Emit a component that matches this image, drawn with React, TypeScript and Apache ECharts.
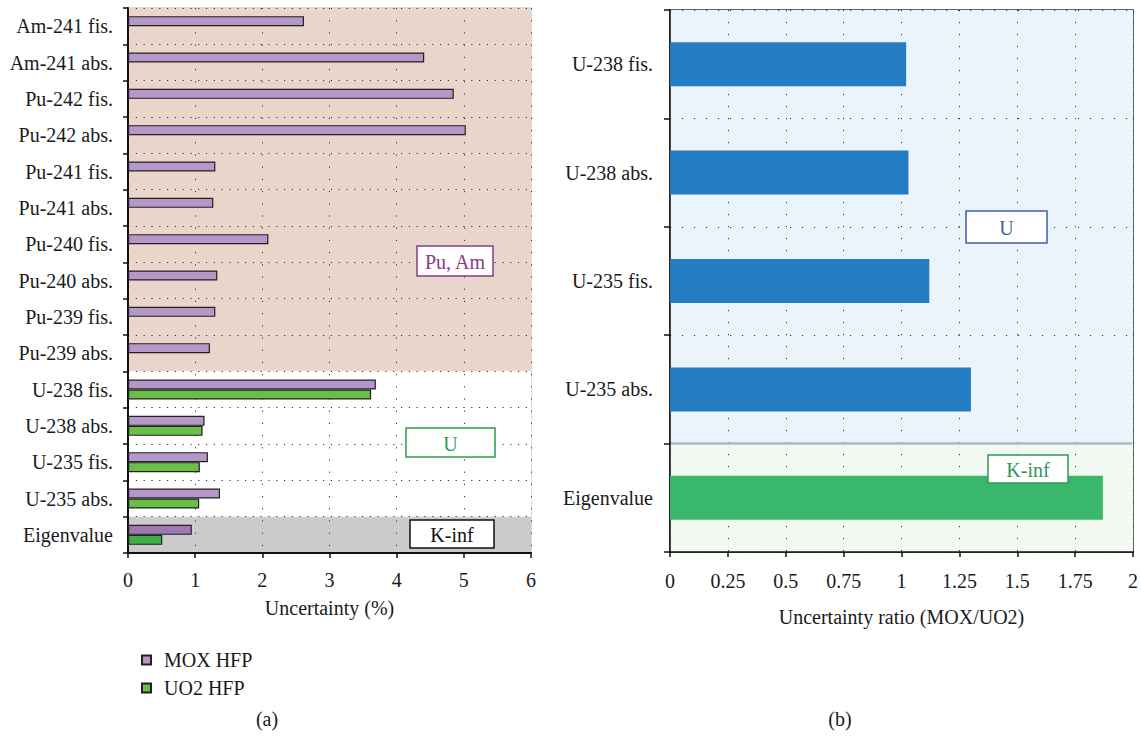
import React, { useEffect, useRef } from 'react';
import * as echarts from 'echarts';

// ---- Panel (a): uncertainty (%) ----
const leftCategories = [
  'Am-241 fis.', 'Am-241 abs.', 'Pu-242 fis.', 'Pu-242 abs.', 'Pu-241 fis.',
  'Pu-241 abs.', 'Pu-240 fis.', 'Pu-240 abs.', 'Pu-239 fis.', 'Pu-239 abs.',
  'U-238 fis.', 'U-238 abs.', 'U-235 fis.', 'U-235 abs.', 'Eigenvalue',
];
const leftRegions = [
  'PuAm', 'PuAm', 'PuAm', 'PuAm', 'PuAm', 'PuAm', 'PuAm', 'PuAm', 'PuAm', 'PuAm',
  'U', 'U', 'U', 'U', 'K',
];
const moxHfp = [2.62, 4.41, 4.85, 5.03, 1.30, 1.27, 2.09, 1.33, 1.30, 1.22, 3.69, 1.14, 1.19, 1.37, 0.95];
const uo2Hfp = [null, null, null, null, null, null, null, null, null, null, 3.62, 1.11, 1.07, 1.06, 0.51];
const leftTicks = [0, 1, 2, 3, 4, 5, 6];

// ---- Panel (b): uncertainty ratio ----
const ratioCategories = ['U-238 fis.', 'U-238 abs.', 'U-235 fis.', 'U-235 abs.', 'Eigenvalue'];
const ratioRegions = ['U', 'U', 'U', 'U', 'K'];
const ratioValues = [1.02, 1.03, 1.12, 1.30, 1.87];
const ratioTicks = [0, 0.25, 0.5, 0.75, 1, 1.25, 1.5, 1.75, 2];

const FONT = '"Liberation Serif", "Times New Roman", serif';
const TXT = '#1a1a1a';

const leftBg: Record<string, string> = { PuAm: '#EAD5CA', U: '#FFFFFF', K: '#CBCBCB' };
const rightBg: Record<string, string> = { U: '#EBF3FB', K: '#F2F9F1' };

function box(x: number, y: number, w: number, h: number, text: string, color: string, border: string) {
  return {
    type: 'group',
    x,
    y,
    children: [
      { type: 'rect', shape: { x: 0, y: 0, width: w, height: h }, style: { fill: '#fff', stroke: border, lineWidth: 1.5 }, z: 20 },
      {
        type: 'text',
        x: w / 2,
        y: h / 2 + 1,
        style: { text, fill: color, font: `20px ${FONT}`, textAlign: 'center', textVerticalAlign: 'middle' },
        z: 21,
      },
    ],
  };
}

export default function App() {
  const ref = useRef<HTMLDivElement>(null);
  useEffect(() => {
    document.body.style.margin = '0';
    const chart = echarts.init(ref.current!, null, { renderer: 'svg' });

    const dotted = (gap: number) => ({ type: [1.2, gap], color: '#333', width: 1 });

    const option: any = {
      animation: false,
      textStyle: { fontFamily: FONT },
      grid: [
        { left: 128, top: 8, width: 403, height: 545, show: true, borderColor: '#b5b5b5', borderWidth: 1, containLabel: false },
        { left: 670, top: 10, width: 465, height: 542, show: true, borderColor: '#333', borderWidth: 1.5, containLabel: false },
      ],
      xAxis: [
        {
          type: 'value', gridIndex: 0, min: leftTicks[0], max: leftTicks[leftTicks.length - 1], interval: 1,
          name: 'Uncertainty (%)', nameLocation: 'middle', nameGap: 45,
          nameTextStyle: { fontSize: 20, color: TXT, fontFamily: FONT },
          axisLine: { show: true, lineStyle: { color: '#111', width: 2 } },
          axisTick: { show: true, length: 5, inside: false, lineStyle: { color: '#111', width: 1.5 } },
          axisLabel: { fontSize: 20, color: TXT, margin: 17, fontFamily: FONT },
          splitLine: { show: true, lineStyle: dotted(11) },
          z: 1,
        },
        {
          type: 'value', gridIndex: 1, min: ratioTicks[0], max: ratioTicks[ratioTicks.length - 1], interval: 0.25,
          name: 'Uncertainty ratio (MOX/UO2)', nameLocation: 'middle', nameGap: 55,
          nameTextStyle: { fontSize: 20, color: TXT, fontFamily: FONT },
          axisLine: { show: true, lineStyle: { color: '#111', width: 1.5 } },
          axisTick: { show: true, length: 5, inside: false, lineStyle: { color: '#111', width: 1.5 } },
          axisLabel: { fontSize: 20, color: TXT, margin: 19, fontFamily: FONT },
          splitLine: { show: true, lineStyle: dotted(10.8) },
          z: 1,
        },
      ],
      yAxis: [
        {
          type: 'category', gridIndex: 0, data: leftCategories, inverse: true,
          axisLine: { show: true, lineStyle: { color: '#111', width: 2 } },
          axisTick: { show: true, length: 5, inside: false, lineStyle: { color: '#111', width: 1.5 } },
          axisLabel: { fontSize: 20, color: TXT, margin: 15, fontFamily: FONT },
          splitLine: { show: true, lineStyle: dotted(6.6) },
          splitArea: { show: true, areaStyle: { color: leftRegions.map((r) => leftBg[r]) } },
          z: 0,
        },
        {
          type: 'category', gridIndex: 1, data: ratioCategories, inverse: true,
          axisLine: { show: true, lineStyle: { color: '#111', width: 1.5 } },
          axisTick: { show: true, length: 6, inside: false, lineStyle: { color: '#111', width: 1.5 } },
          axisLabel: { fontSize: 20, color: TXT, margin: 17, fontFamily: FONT },
          splitLine: { show: true, lineStyle: dotted(10.8) },
          splitArea: { show: true, areaStyle: { color: ratioRegions.map((r) => rightBg[r]) } },
          z: 0,
        },
      ],
      legend: {
        orient: 'vertical', left: 136, top: 645, itemWidth: 9, itemHeight: 9, itemGap: 8,
        icon: 'rect',
        data: ['MOX HFP', 'UO2 HFP'],
        textStyle: { fontSize: 20, color: TXT, fontFamily: FONT, padding: [0, 0, 0, 8] },
      },
      series: [
        {
          name: 'MOX HFP', type: 'bar', xAxisIndex: 0, yAxisIndex: 0, barWidth: 10, barGap: '0%',
          itemStyle: { color: '#B697C9', borderColor: '#222', borderWidth: 1.2 },
          data: moxHfp.map((v, i) =>
            leftRegions[i] === 'K' ? { value: v, itemStyle: { color: '#9D79B4' } } : v),
          z: 3,
        },
        {
          name: 'UO2 HFP', type: 'bar', xAxisIndex: 0, yAxisIndex: 0, barWidth: 10, barGap: '0%',
          itemStyle: { color: '#6ABF47', borderColor: '#222', borderWidth: 1.2 },
          data: uo2Hfp.map((v, i) =>
            leftRegions[i] === 'K' ? { value: v, itemStyle: { color: '#3FAE48' } } : v),
          z: 3,
        },
        {
          name: 'Ratio', type: 'bar', xAxisIndex: 1, yAxisIndex: 1, barWidth: 44,
          itemStyle: { color: '#247DC2' },
          data: ratioValues.map((v, i) =>
            ratioRegions[i] === 'K' ? { value: v, itemStyle: { color: '#39B76A' } } : v),
          z: 3,
        },
      ],
    };
    chart.setOption(option);

    // separator between U and K-inf regions in panel (b), from the axis scale
    const pA = chart.convertToPixel({ seriesIndex: 2 }, [0, 3]) as number[];
    const pB = chart.convertToPixel({ seriesIndex: 2 }, [0, 4]) as number[];
    const sepY = (pA[1] + pB[1]) / 2;
    const x0 = chart.convertToPixel({ seriesIndex: 2 }, [ratioTicks[0], 0]) as number[];
    const x1 = chart.convertToPixel({ seriesIndex: 2 }, [ratioTicks[ratioTicks.length - 1], 0]) as number[];

    chart.setOption({
      graphic: [
        {
          type: 'line', shape: { x1: x0[0] + 1, y1: sepY, x2: x1[0] - 1, y2: sepY },
          style: { stroke: '#A9B8C4', lineWidth: 2.5 }, z: 10,
        },
        box(417, 246, 76, 30, 'Pu, Am', '#863D8A', '#863D8A'),
        box(406, 428, 89, 29, 'U', '#2E9B4E', '#2E9B4E'),
        box(410, 520, 84, 28, 'K-inf', '#111', '#111'),
        box(966, 211, 81, 32, 'U', '#3F5FAD', '#3F5FAD'),
        box(988, 455, 80, 28, 'K-inf', '#2E9A5A', '#2E9A5A'),
        {
          type: 'text', x: 267, y: 719,
          style: { text: '(a)', fill: TXT, font: `20px ${FONT}`, textAlign: 'center', textVerticalAlign: 'middle' },
        },
        {
          type: 'text', x: 840, y: 719,
          style: { text: '(b)', fill: TXT, font: `20px ${FONT}`, textAlign: 'center', textVerticalAlign: 'middle' },
        },
      ],
    });

    return () => chart.dispose();
  }, []);
  return <div ref={ref} style={{ width: 1141, height: 743 }} />;
}
